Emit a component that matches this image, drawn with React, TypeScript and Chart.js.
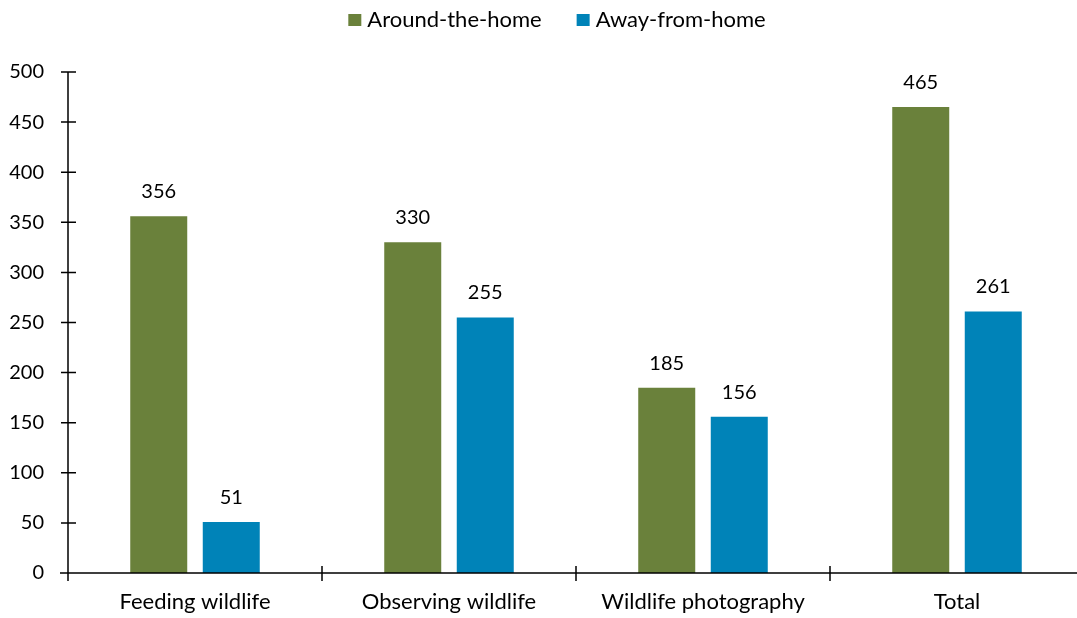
import React, { useEffect, useRef } from "react";
import { Chart, registerables } from "chart.js";

Chart.register(...registerables);

const categories = ["Feeding wildlife", "Observing wildlife", "Wildlife photography", "Total"];
const aroundHome = [356, 330, 185, 465];
const awayFromHome = [51, 255, 156, 261];
const seriesNames = ["Around-the-home", "Away-from-home"];
const seriesColors = ["#6a813b", "#0083b8"];
const yMin = 0;
const yMax = 500;
const yStep = 50;

const FONT = "Lato, 'Open Sans', sans-serif";
const NUM_SIZE = 20;
const TEXT_SIZE = 22;
const TEXT_COLOR = "#000000";

const axesPlugin = {
  id: "excelAxes",
  afterDatasetsDraw(chart: any) {
    const { ctx, chartArea, scales } = chart;
    const x = scales.x;
    const y = scales.y;
    ctx.save();
    ctx.strokeStyle = "#000000";
    ctx.lineWidth = 1.5;
    ctx.beginPath();
    ctx.moveTo(x.left, chartArea.top);
    ctx.lineTo(x.left, chartArea.bottom + 8);
    ctx.moveTo(x.left - 8, chartArea.bottom);
    ctx.lineTo(chart.width, chartArea.bottom);
    for (let v = yMin; v <= yMax; v += yStep) {
      const py = y.getPixelForValue(v);
      ctx.moveTo(x.left - 7, py);
      ctx.lineTo(x.left + 8, py);
    }
    const n = categories.length;
    for (let i = 1; i <= n; i++) {
      const px = x.left + (i * (x.right - x.left)) / n;
      ctx.moveTo(px, chartArea.bottom - 7);
      ctx.lineTo(px, chartArea.bottom + 8);
    }
    ctx.stroke();

    ctx.fillStyle = TEXT_COLOR;
    ctx.font = `${NUM_SIZE}px ${FONT}`;
    ctx.textAlign = "center";
    ctx.textBaseline = "alphabetic";
    chart.data.datasets.forEach((ds: any, di: number) => {
      const meta = chart.getDatasetMeta(di);
      meta.data.forEach((bar: any, i: number) => {
        ctx.fillText(String(ds.data[i]), bar.x, bar.y - 18);
      });
    });
    ctx.restore();
  },
};

const legendPlugin = {
  id: "topLegend",
  afterDraw(chart: any) {
    const { ctx } = chart;
    ctx.save();
    ctx.font = `${TEXT_SIZE}px ${FONT}`;
    const box = 13;
    const boxGap = 6;
    const itemGap = 35;
    const items = chart.data.datasets.map((ds: any) => ({
      label: ds.label,
      color: ds.backgroundColor,
      w: ctx.measureText(ds.label).width,
    }));
    const total =
      items.reduce((s: number, it: any) => s + box + boxGap + it.w, 0) + itemGap * (items.length - 1);
    let px = chart.width / 2 - total / 2;
    const cy = 20;
    items.forEach((it: any) => {
      ctx.fillStyle = it.color;
      ctx.fillRect(px, cy - 6, box, 12);
      px += box + boxGap;
      ctx.fillStyle = TEXT_COLOR;
      ctx.textAlign = "left";
      ctx.textBaseline = "middle";
      ctx.fillText(it.label, px, cy);
      px += it.w + itemGap;
    });
    ctx.restore();
  },
};

export default function App() {
  const canvasRef = useRef<HTMLCanvasElement | null>(null);

  useEffect(() => {
    document.body.style.margin = "0";
    const canvas = canvasRef.current;
    if (!canvas) return;
    const chart = new Chart(canvas, {
      type: "bar",
      data: {
        labels: categories,
        datasets: [
          {
            label: seriesNames[0],
            data: aroundHome,
            backgroundColor: seriesColors[0],
            categoryPercentage: 0.571,
            barPercentage: 0.786,
          },
          {
            label: seriesNames[1],
            data: awayFromHome,
            backgroundColor: seriesColors[1],
            categoryPercentage: 0.571,
            barPercentage: 0.786,
          },
        ],
      },
      options: {
        responsive: false,
        animation: false,
        devicePixelRatio: 1,
        layout: { padding: { top: 72, right: 30, left: 0, bottom: 0 } },
        plugins: {
          legend: { display: false },
          tooltip: { enabled: false },
        },
        scales: {
          x: {
            grid: { display: false, drawTicks: false },
            border: { display: false },
            ticks: {
              color: TEXT_COLOR,
              font: { family: FONT, size: TEXT_SIZE },
              padding: 16,
              maxRotation: 0,
            },
            afterFit(scale: any) {
              scale.height = 45;
            },
          },
          y: {
            min: yMin,
            max: yMax,
            grid: { display: false, drawTicks: false },
            border: { display: false },
            ticks: {
              stepSize: yStep,
              color: TEXT_COLOR,
              font: { family: FONT, size: NUM_SIZE },
              padding: 24,
            },
            afterFit(scale: any) {
              scale.width = 68;
            },
          },
        },
      },
      plugins: [axesPlugin, legendPlugin],
    });
    return () => chart.destroy();
  }, []);

  return (
    <div style={{ position: "absolute", left: 0, top: 0, width: 1077, height: 618, overflow: "hidden" }}>
      <canvas ref={canvasRef} width={1114} height={618} style={{ width: 1114, height: 618, display: "block" }} />
    </div>
  );
}
